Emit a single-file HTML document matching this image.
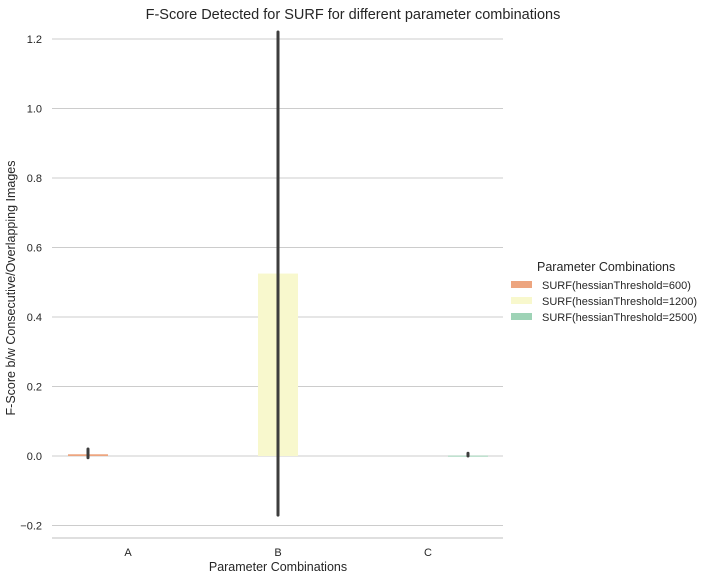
<!DOCTYPE html>
<html><head><meta charset="utf-8"><style>
body{margin:0;background:#fff;}
svg{display:block;font-family:"Liberation Sans",Arial,sans-serif;}
</style></head><body>
<svg id="chart" width="706" height="579">
<g id="grid"></g>
<g id="bars"></g>
<g id="errs"></g>
<g id="yt"></g>
<g id="xt"></g>
<line x1="52" x2="503" y1="538" y2="538" stroke="#cccccc" stroke-width="1.2"/>
<text x="353" y="19" text-anchor="middle" font-size="14.5" fill="#262626">F-Score Detected for SURF  for different parameter combinations</text>
<text x="278" y="571" text-anchor="middle" font-size="12.5" fill="#262626">Parameter Combinations</text>
<text transform="translate(15,288) rotate(-90)" text-anchor="middle" font-size="12.5" fill="#262626">F-Score b/w Consecutive/Overlapping Images</text>
<g>
<text x="537" y="271" font-size="12.5" fill="#262626">Parameter Combinations</text>
<g id="leg"></g>
</g>
</svg>
<script>
const categories=["A","B","C"];
const hues=["SURF(hessianThreshold=600)","SURF(hessianThreshold=1200)","SURF(hessianThreshold=2500)"];
const colors=["#eda57f","#f8f8cd","#9ed3b6"];
const values600=[0.005,null,null];
const values1200=[null,0.525,null];
const values2500=[null,null,0.001];
const errLow600=[-0.005,null,null];
const errHigh600=[0.02,null,null];
const errLow1200=[null,-0.17,null];
const errHigh1200=[null,1.22,null];
const errLow2500=[null,null,0.0];
const errHigh2500=[null,null,0.008];
const yTicks=[-0.2,0.0,0.2,0.4,0.6,0.8,1.0,1.2];
const yTickLabels=["\u22120.2","0.0","0.2","0.4","0.6","0.8","1.0","1.2"];

const NS="http://www.w3.org/2000/svg";
const Y=v=>456-v*347.5;
const X=i=>128+i*150;
const bw=40;
function mk(t,a,p){const e=document.createElementNS(NS,t);for(const k in a)e.setAttribute(k,a[k]);p.appendChild(e);return e;}
const grid=document.getElementById('grid'),yt=document.getElementById('yt');
yTicks.forEach((v,i)=>{
  const l=mk('line',{x1:52,x2:503,y1:Y(v),y2:Y(v),stroke:'#cccccc','stroke-width':1},grid);
  
  
  const t=mk('text',{x:42,y:Y(v)+4,'text-anchor':'end','font-size':11,fill:'#262626'},yt);
  t.textContent=yTickLabels[i];
  
  
});
const xt=document.getElementById('xt');
categories.forEach((c,i)=>{
  const t=mk('text',{x:X(i),y:556,'text-anchor':'middle','font-size':11,fill:'#262626'},xt);
  t.textContent=c;
  
  
});
const series=[values600,values1200,values2500];
const lows=[errLow600,errLow1200,errLow2500];
const highs=[errHigh600,errHigh1200,errHigh2500];
const bars=document.getElementById('bars'),errs=document.getElementById('errs');
series.forEach((vals,h)=>{
  vals.forEach((v,i)=>{
    if(v===null)return;
    const cx=X(i)+(h-1)*bw;
    const y0=Y(0),y1=Y(v);
    const r=mk('rect',{x:cx-bw/2,y:Math.min(y0,y1),width:bw,height:Math.max(Math.abs(y1-y0),1),fill:colors[h]},bars);
    
    
    const e=mk('line',{x1:cx,x2:cx,y1:Y(lows[h][i]),y2:Y(highs[h][i]),stroke:'#3d3d3d','stroke-width':3,'stroke-linecap':'round'},errs);
    
    
  });
});
const leg=document.getElementById('leg');
hues.forEach((h,i)=>{
  const y=285+i*16;
  const r=mk('rect',{x:511,y:y-4,width:21,height:7,fill:colors[i]},leg);
  
  
  const t=mk('text',{x:542,y:y+4,'font-size':11,fill:'#262626'},leg);
  t.textContent=h;
  
  
});
</script>
</body></html>
